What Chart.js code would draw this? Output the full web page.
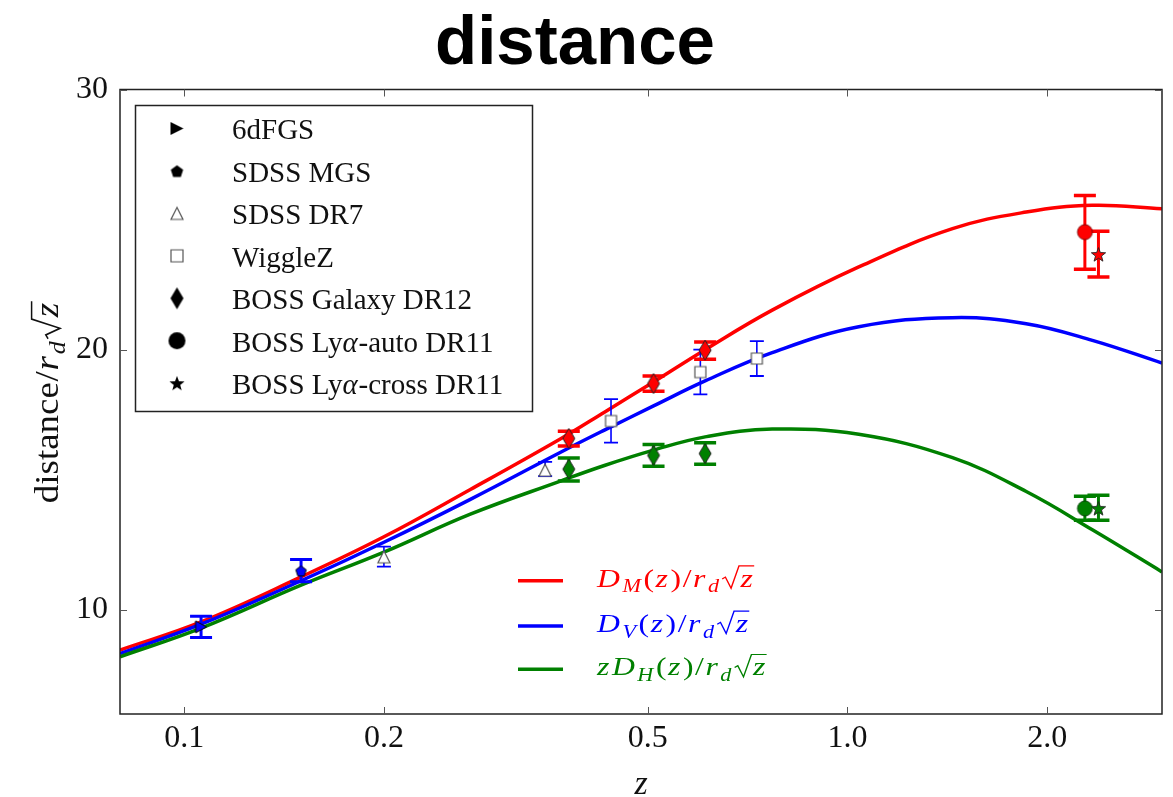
<!DOCTYPE html>
<html>
<head>
<meta charset="utf-8">
<title>distance</title>
<script src="https://cdn.jsdelivr.net/npm/chart.js@4.4.1/dist/chart.umd.min.js"></script>
<style>
    html, body { margin: 0; padding: 0; background: #fff; }
</style>
</head>
<body>
<canvas id="myChart" width="1173" height="797"></canvas>
<script>
// ---- model curves (distance / r_d sqrt(z)) ----
const curveZ = [0.08, 0.106, 0.15, 0.2, 0.27, 0.37, 0.43, 0.51, 0.61, 0.77, 1.04, 1.44, 1.86, 2.34, 2.98];
const dmCurve = [8.46, 9.54, 11.27, 12.81, 14.63, 16.59, 17.6, 18.76, 20.0, 21.52, 23.18, 24.65, 25.29, 25.55, 25.42];
const dvCurve = [8.32, 9.45, 11.12, 12.6, 14.25, 16.07, 16.91, 17.84, 18.8, 19.89, 20.88, 21.23, 21.0, 20.36, 19.49];
const dhCurve = [8.2, 9.3, 10.95, 12.22, 13.68, 14.96, 15.55, 16.14, 16.65, 16.95, 16.75, 15.85, 14.55, 13.08, 11.46];

// ---- measurements: value, lower and upper end of the error bar ----
const sixdfZ = [0.106], sixdfVal = [9.35], sixdfLo = [8.94], sixdfHi = [9.76];
const mgsZ = [0.15], mgsVal = [11.5], mgsLo = [11.08], mgsHi = [11.94];
const dr7Z = [0.2, 0.35], dr7Val = [12.04, 15.37], dr7Lo = [11.66, 15.14], dr7Hi = [12.43, 15.69];
const wigZ = [0.44, 0.6, 0.73], wigVal = [17.26, 19.14, 19.66], wigLo = [16.43, 18.28, 18.99], wigHi = [18.1, 20.0, 20.33];
const dr12Z = [0.38, 0.51, 0.61];
const dr12Dm = [16.59, 18.7, 19.98], dr12DmLo = [16.3, 18.4, 19.63], dr12DmHi = [16.87, 18.99, 20.3];
const dr12Dh = [15.41, 15.94, 16.01], dr12DhLo = [14.95, 15.52, 15.6], dr12DhHi = [15.84, 16.36, 16.42];
const autoZ = [2.28];
const autoDm = [24.52], autoDmLo = [23.09], autoDmHi = [25.93];
const autoDh = [13.9], autoDhLo = [13.45], autoDhHi = [14.37];
const crossZ = [2.39];
const crossDm = [23.66], crossDmLo = [22.79], crossDmHi = [24.55];
const crossDh = [13.9], crossDhLo = [13.45], crossDhHi = [14.41];

// ---- axes ----
const xTicks = [0.1, 0.2, 0.5, 1.0, 2.0];
const xTickLabels = ["0.1", "0.2", "0.5", "1.0", "2.0"];
const yTicks = [10, 20, 30];
const surveyNames = ["6dFGS", "SDSS MGS", "SDSS DR7", "WiggleZ", "BOSS Galaxy DR12", "BOSS Lyα-auto DR11", "BOSS Lyα-cross DR11"];

const RED = "#ff0000", BLUE = "#0000ff", GREEN = "#008000";
const SERIF = "'Liberation Serif', 'Times New Roman', serif";

// marker glyphs drawn once into small canvases, used as pointStyle
function makeMarker(shape, w, h, fill, edge, lw) {
    const c = document.createElement("canvas");
    const pad = Math.ceil(lw) + 1;
    c.width = w + 2 * pad;
    c.height = h + 2 * pad;
    const g = c.getContext("2d");
    g.translate(c.width / 2, c.height / 2);
    const rx = w / 2, ry = h / 2;
    g.beginPath();
    if (shape === "triRight") {
        g.moveTo(-rx, -ry); g.lineTo(rx, 0); g.lineTo(-rx, ry);
    } else if (shape === "triUp") {
        g.moveTo(0, -ry); g.lineTo(rx, ry); g.lineTo(-rx, ry);
    } else if (shape === "square") {
        g.rect(-rx, -ry, w, h);
    } else if (shape === "diamond") {
        g.moveTo(0, -ry); g.lineTo(rx, 0); g.lineTo(0, ry); g.lineTo(-rx, 0);
    } else if (shape === "circle") {
        g.arc(0, 0, rx, 0, Math.PI * 2);
    } else if (shape === "pentagon") {
        for (let k = 0; k < 5; k++) {
            const a = -Math.PI / 2 + k * Math.PI * 2 / 5;
            g.lineTo(rx * Math.cos(a), ry * Math.sin(a) + ry * 0.1);
        }
    } else if (shape === "star") {
        for (let k = 0; k < 10; k++) {
            const a = -Math.PI / 2 + k * Math.PI / 5;
            const r = k % 2 ? 0.42 : 1;
            g.lineTo(rx * r * Math.cos(a), ry * r * Math.sin(a) + ry * 0.08);
        }
    }
    g.closePath();
    g.fillStyle = fill;
    g.fill();
    if (lw > 0) {
        g.lineWidth = lw;
        g.strokeStyle = edge;
        g.lineJoin = "miter";
        g.stroke();
    }
    return c;
}

const mk = {
    sixdf: makeMarker("triRight", 11, 12, BLUE, "#000", 1),
    mgs: makeMarker("pentagon", 11, 11, BLUE, "#000", 1),
    dr7: makeMarker("triUp", 12, 12, "#fff", "#555", 1.2),
    wig: makeMarker("square", 11, 11, "#fff", "#555", 1.2),
    dmDiamond: makeMarker("diamond", 12, 20, RED, "#222", 1),
    dhDiamond: makeMarker("diamond", 12, 20, GREEN, "#222", 1),
    dmCircle: makeMarker("circle", 15, 15, RED, "#600", 0.8),
    dhCircle: makeMarker("circle", 15, 15, GREEN, "#030", 0.8),
    dmStar: makeMarker("star", 15, 15, RED, "#222", 0.9),
    dhStar: makeMarker("star", 15, 15, GREEN, "#222", 0.9)
};
const legendMarkers = [
    makeMarker("triRight", 13, 13, "#000", "#000", 0),
    makeMarker("pentagon", 13, 13, "#000", "#000", 0),
    makeMarker("triUp", 12, 12, "#fff", "#555", 1.2),
    makeMarker("square", 12, 12, "#fff", "#555", 1.2),
    makeMarker("diamond", 13, 22, "#000", "#000", 0),
    makeMarker("circle", 17, 17, "#000", "#000", 0),
    makeMarker("star", 16, 16, "#000", "#000", 0)
];

function pts(xs, ys) {
    return xs.map((x, i) => ({ x: x, y: ys[i] }));
}

function curve(label, ys, color, order) {
    return {
        label: label,
        data: pts(curveZ, ys),
        borderColor: color,
        borderWidth: 3.5,
        pointRadius: 0,
        tension: 0.4,
        fill: false,
        order: order
    };
}

function survey(label, xs, ys, lo, hi, marker, err) {
    return {
        label: label,
        data: pts(xs, ys),
        showLine: false,
        pointStyle: marker,
        pointRadius: 6,
        order: 1,
        errLo: lo,
        errHi: hi,
        err: err
    };
}

// error bar looks: colour, stem width, cap width, cap thickness
const thickBlue = { color: BLUE, lw: 3, cap: 22, capLw: 3 };
const thinBlue = { color: BLUE, lw: 1.6, cap: 14, capLw: 1.8 };
const thickRed = { color: RED, lw: 3, cap: 22, capLw: 3.5 };
const thickGreen = { color: GREEN, lw: 3, cap: 22, capLw: 3.5 };

const datasets = [
    curve("D_M(z)/r_d√z", dmCurve, RED, 4),
    curve("D_V(z)/r_d√z", dvCurve, BLUE, 3),
    Object.assign(curve("zD_H(z)/r_d√z", dhCurve, GREEN, 2), { lastCurve: true }),
    survey("6dFGS", sixdfZ, sixdfVal, sixdfLo, sixdfHi, mk.sixdf, thickBlue),
    survey("SDSS MGS", mgsZ, mgsVal, mgsLo, mgsHi, mk.mgs, thickBlue),
    survey("SDSS DR7", dr7Z, dr7Val, dr7Lo, dr7Hi, mk.dr7, thinBlue),
    survey("WiggleZ", wigZ, wigVal, wigLo, wigHi, mk.wig, thinBlue),
    survey("BOSS Galaxy DR12", dr12Z, dr12Dm, dr12DmLo, dr12DmHi, mk.dmDiamond, thickRed),
    survey("BOSS Galaxy DR12", dr12Z, dr12Dh, dr12DhLo, dr12DhHi, mk.dhDiamond, thickGreen),
    survey("BOSS Lyα-auto DR11", autoZ, autoDm, autoDmLo, autoDmHi, mk.dmCircle, thickRed),
    survey("BOSS Lyα-auto DR11", autoZ, autoDh, autoDhLo, autoDhHi, mk.dhCircle, thickGreen),
    survey("BOSS Lyα-cross DR11", crossZ, crossDm, crossDmLo, crossDmHi, mk.dmStar, thickRed),
    survey("BOSS Lyα-cross DR11", crossZ, crossDh, crossDhLo, crossDhHi, mk.dhStar, thickGreen)
];

// math-ish text: runs of roman / italic / subscript / square root.
// gap is extra space after each run (in em), sx a horizontal stretch.
function drawMath(ctx, runs, x, y, size, opts) {
    const o = Object.assign({ dry: false, gap: 0, sx: 1 }, opts);
    ctx.save();
    ctx.translate(x, y);
    ctx.scale(o.sx, 1);
    let cx = 0;
    for (const r of runs) {
        if (r.sqrt) {
            ctx.font = "italic " + size + "px " + SERIF;
            const w = ctx.measureText(r.t).width;
            if (!o.dry) {
                const top = -size * 0.8;
                ctx.beginPath();
                ctx.moveTo(cx + size * 0.02, -size * 0.3);
                ctx.lineTo(cx + size * 0.12, -size * 0.37);
                ctx.lineTo(cx + size * 0.3, size * 0.06);
                ctx.lineTo(cx + size * 0.55, top);
                ctx.lineTo(cx + size * 0.6 + w + size * 0.04, top);
                ctx.lineWidth = Math.max(1, size * 0.045);
                ctx.stroke();
                ctx.fillText(r.t, cx + size * 0.6, 0);
            }
            cx += size * 0.6 + w + size * 0.05;
        } else {
            const fs = r.sub ? size * 0.7 : size;
            ctx.font = (r.it ? "italic " : "") + fs + "px " + SERIF;
            if (!o.dry) ctx.fillText(r.t, cx, r.sub ? size * 0.22 : 0);
            cx += ctx.measureText(r.t).width + (r.it ? size * 0.03 : 0);
        }
        cx += o.gap * size;
    }
    ctx.restore();
    return cx * o.sx;
}

const overRd = [{ t: "/" }, { t: "r", it: 1 }, { t: "d", it: 1, sub: 1 }, { t: "z", sqrt: 1 }];
const yLabelRuns = [{ t: "distance" }].concat(overRd);
const lineLegend = [
    { color: RED, runs: [{ t: "D", it: 1 }, { t: "M", it: 1, sub: 1 }, { t: "(" }, { t: "z", it: 1 }, { t: ")" }].concat(overRd) },
    { color: BLUE, runs: [{ t: "D", it: 1 }, { t: "V", it: 1, sub: 1 }, { t: "(" }, { t: "z", it: 1 }, { t: ")" }].concat(overRd) },
    { color: GREEN, runs: [{ t: "z", it: 1 }, { t: "D", it: 1 }, { t: "H", it: 1, sub: 1 }, { t: "(" }, { t: "z", it: 1 }, { t: ")" }].concat(overRd) }
];

const errorBars = {
    id: "errorBars",
    afterDatasetDraw(chart, args) {
        if (!chart.data.datasets[args.index].lastCurve) return;
        const ctx = chart.ctx;
        const xs = chart.scales.x, ys = chart.scales.y;
        ctx.save();
        ctx.lineCap = "butt";
        chart.data.datasets.forEach((ds) => {
            if (!ds.err) return;
            const e = ds.err;
            ctx.strokeStyle = e.color;
            ds.data.forEach((p, i) => {
                const px = xs.getPixelForValue(p.x);
                const lo = ys.getPixelForValue(ds.errLo[i]);
                const hi = ys.getPixelForValue(ds.errHi[i]);
                ctx.lineWidth = e.lw;
                ctx.beginPath();
                ctx.moveTo(px, lo);
                ctx.lineTo(px, hi);
                ctx.stroke();
                ctx.lineWidth = e.capLw;
                ctx.beginPath();
                ctx.moveTo(px - e.cap / 2, lo);
                ctx.lineTo(px + e.cap / 2, lo);
                ctx.moveTo(px - e.cap / 2, hi);
                ctx.lineTo(px + e.cap / 2, hi);
                ctx.stroke();
            });
        });
        ctx.restore();
    }
};

const frameAndLegends = {
    id: "frameAndLegends",
    afterDraw(chart) {
        const ctx = chart.ctx;
        const a = chart.chartArea;
        const xs = chart.scales.x, ys = chart.scales.y;
        ctx.save();

        // title
        ctx.fillStyle = "#000";
        ctx.font = "bold 69px 'Liberation Sans', Arial, sans-serif";
        ctx.textAlign = "center";
        ctx.textBaseline = "alphabetic";
        ctx.fillText("distance", 575, 64);
        ctx.textAlign = "left";

        // axes box with inward ticks on all four sides
        ctx.strokeStyle = "#222";
        ctx.lineWidth = 1.5;
        ctx.strokeRect(a.left, a.top, a.right - a.left, a.bottom - a.top);
        ctx.strokeStyle = "#555";
        ctx.lineWidth = 1;
        ctx.beginPath();
        xTicks.forEach((v) => {
            const px = Math.round(xs.getPixelForValue(v)) + 0.5;
            ctx.moveTo(px, a.bottom); ctx.lineTo(px, a.bottom - 7);
            ctx.moveTo(px, a.top); ctx.lineTo(px, a.top + 7);
        });
        yTicks.forEach((v) => {
            const py = Math.round(ys.getPixelForValue(v)) + 0.5;
            ctx.moveTo(a.left, py); ctx.lineTo(a.left + 7, py);
            ctx.moveTo(a.right, py); ctx.lineTo(a.right - 7, py);
        });
        ctx.stroke();

        // y axis title, rotated
        ctx.fillStyle = "#111";
        ctx.strokeStyle = "#111";
        const yOpts = { sx: 1.12, gap: 0.02 };
        const ySize = 33;
        const yw = drawMath(ctx, yLabelRuns, 0, 0, ySize, Object.assign({ dry: true }, yOpts));
        ctx.save();
        ctx.translate(58, (a.top + a.bottom) / 2);
        ctx.rotate(-Math.PI / 2);
        drawMath(ctx, yLabelRuns, -yw / 2, 0, ySize, yOpts);
        ctx.restore();

        // survey legend
        ctx.fillStyle = "#fff";
        ctx.fillRect(135, 105, 398, 307);
        ctx.strokeStyle = "#222";
        ctx.lineWidth = 1.5;
        ctx.strokeRect(135.5, 105.5, 397, 306);
        surveyNames.forEach((name, i) => {
            const base = 139.3 + i * 42.45;
            const m = legendMarkers[i];
            ctx.drawImage(m, 177 - m.width / 2, base - 10.8 - m.height / 2);
            ctx.fillStyle = "#111";
            const parts = name.split("α");
            const runs = parts.length > 1
                ? [{ t: parts[0] }, { t: "α", it: 1 }, { t: parts[1] }]
                : [{ t: name }];
            drawMath(ctx, runs, 232, base, 29);
        });

        // model curve legend
        const lineY = [580.7, 626, 669.3];
        lineLegend.forEach((row, i) => {
            ctx.strokeStyle = row.color;
            ctx.lineWidth = 3.5;
            ctx.beginPath();
            ctx.moveTo(518, lineY[i]);
            ctx.lineTo(563, lineY[i]);
            ctx.stroke();
            ctx.fillStyle = row.color;
            drawMath(ctx, row.runs, 597, lineY[i] + 6, 26, { gap: 0.05, sx: 1.22 });
        });
        ctx.restore();
    }
};

const ctx = document.getElementById("myChart");
const myChart = new Chart(ctx, {
    type: "line",
    data: { datasets: datasets },
    options: {
        responsive: false,
        animation: false,
        events: [],
        layout: { padding: { left: 12, right: 11, top: 89.5, bottom: 0 } },
        plugins: {
            legend: { display: false },
            tooltip: { enabled: false }
        },
        scales: {
            x: {
                type: "logarithmic",
                min: 0.08,
                max: 2.98,
                grid: { display: false, drawTicks: false },
                border: { display: false },
                afterBuildTicks: (scale) => {
                    scale.ticks = xTicks.map((v) => ({ value: v }));
                },
                afterFit: (scale) => { scale.height = 83; },
                ticks: {
                    autoSkip: false,
                    maxRotation: 0,
                    padding: 5,
                    color: "#111",
                    font: { family: SERIF, size: 32 },
                    callback: (v, i) => xTickLabels[i]
                },
                title: {
                    display: true,
                    text: "z",
                    color: "#111",
                    font: { family: SERIF, size: 34, style: "italic", lineHeight: 0.73 },
                    padding: { top: 0, bottom: 0 }
                }
            },
            y: {
                min: 6,
                max: 30,
                grid: { display: false, drawTicks: false },
                border: { display: false },
                afterBuildTicks: (scale) => {
                    scale.ticks = yTicks.map((v) => ({ value: v }));
                },
                afterFit: (scale) => { scale.width = 108; },
                ticks: {
                    padding: 12,
                    color: "#111",
                    font: { family: SERIF, size: 32 }
                }
            }
        }
    },
    plugins: [errorBars, frameAndLegends]
});
</script>
</body>
</html>
